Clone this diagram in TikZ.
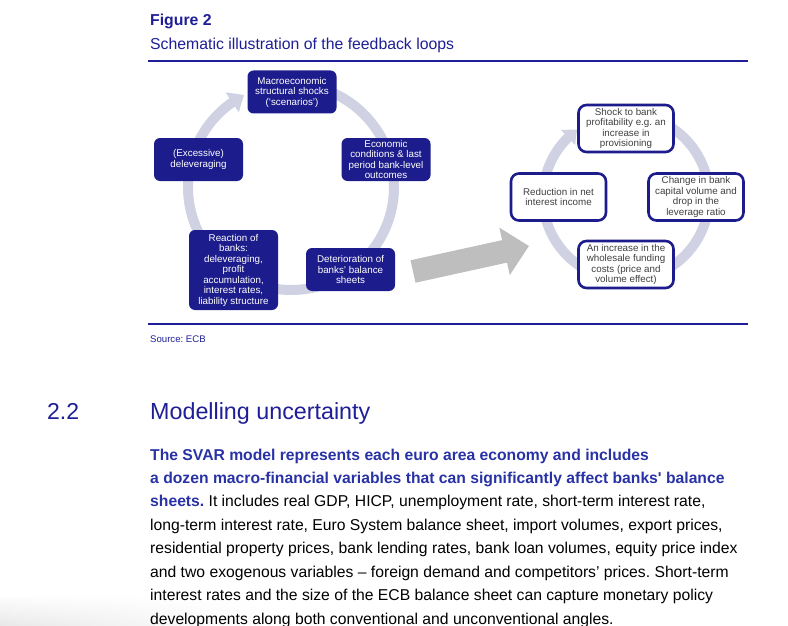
\documentclass[tikz,border=0pt]{standalone}
\usepackage{fontspec}
\setmainfont{Liberation Sans}
\usetikzlibrary{arrows.meta,bending,fadings}
\definecolor{ecbblue}{RGB}{28,28,140}
\definecolor{titleblue}{RGB}{30,30,150}
\definecolor{leadblue}{RGB}{40,50,165}
\definecolor{ringgray}{RGB}{208,210,228}
\definecolor{arrowgray}{RGB}{190,190,190}
\definecolor{boxtext}{RGB}{64,64,64}
\newcommand{\boxfont}{\fontsize{9.8}{10.5}\selectfont}
\newcommand{\bodyfont}{\fontsize{15.7}{18}\selectfont}
\frenchspacing

\begin{document}
\begin{tikzpicture}[x=1pt, y=1pt,
    darkbox/.style={fill=ecbblue, rounded corners=6pt, text=white, align=center,
      font=\boxfont, inner sep=2pt, minimum width=89pt, minimum height=43pt},
    lightbox/.style={draw=ecbblue, line width=2.6pt, fill=white, rounded corners=8pt,
      text=boxtext, align=center, font=\boxfont, inner sep=2pt,
      minimum width=95pt, minimum height=47pt},
    loopring/.style={draw=ringgray, line width=10pt},
    bodyline/.style={anchor=base west, inner sep=0pt, font=\bodyfont}]
      \useasboundingbox (0, 0) rectangle (788, -626);
      % shadow in the corner
      \shade[top color=white, bottom color=black!9, path fading=east] (0, -594) rectangle (270, -626);
      % heading of the figure
      \node[anchor=base west, inner sep=0pt, text=titleblue, font=\fontsize{15.8}{18}\selectfont\bfseries] (T1) at (150, -26) {Figure 2};
      \node[anchor=base west, inner sep=0pt, text=titleblue, font=\fontsize{15.8}{18}\selectfont] (T2) at (150, -50) {Schematic illustration of the feedback loops};
      \draw[titleblue, line width=1.2pt] (148, -61) -- (748, -61);
      \draw[titleblue, line width=1.2pt] (148, -324) -- (748, -324);
      \node[anchor=base west, inner sep=0pt, text=titleblue, font=\fontsize{9.6}{11}\selectfont] (S) at (150, -342) {Source: ECB};
      % left loop
      \coordinate (O1) at (291, -187);
      \draw[loopring, -{Triangle[width=23pt, length=14pt, bend]}] (O1) ++(90:103) arc[start angle=90, end angle=-243, radius=103];
      \node[darkbox] (A) at (292, -92) {Macroeconomic\\structural shocks\\(‘scenarios’)};
      \node[darkbox] (B) at (386, -159.5) {Economic\\conditions \& last\\period bank-level\\outcomes};
      \node[darkbox] (C) at (350.5, -269.5) {Deterioration of\\banks’ balance\\sheets};
      \node[darkbox, minimum height=80pt] (D) at (233.5, -270) {Reaction of\\banks:\\deleveraging,\\profit\\accumulation,\\interest rates,\\liability structure};
      \node[darkbox] (E) at (198.5, -159.5) {(Excessive)\\deleveraging};
      % right loop
      \coordinate (O2) at (626, -197);
      \draw[loopring, -{Triangle[width=20pt, length=12pt, bend]}] (O2) ++(90:83) arc[start angle=90, end angle=-234, radius=83];
      \node[lightbox] (F) at (626, -128.5) {Shock to bank\\profitability e.g. an\\increase in\\provisioning};
      \node[lightbox] (G) at (696, -197) {Change in bank\\capital volume and\\drop in the\\leverage ratio};
      \node[lightbox] (H) at (626, -264.5) {An increase in the\\wholesale funding\\costs (price and\\volume effect)};
      \node[lightbox] (I) at (558.5, -197) {Reduction in net\\interest income};
      % link between the loops
      \coordinate (P) at (413, -271.5);
      \coordinate (Q) at (529, -246);
      \draw[arrowgray, line width=23pt, -{Triangle[width=47pt, length=25pt]}] (P) -- (Q);
      % section text
      \node[anchor=base west, inner sep=0pt, text=titleblue, font=\fontsize{23}{27}\selectfont] (N) at (47, -419) {2.2};
      \node[anchor=base west, inner sep=0pt, text=titleblue, font=\fontsize{23.3}{27}\selectfont] (M) at (150, -419) {Modelling uncertainty};
      \node[bodyline, text=leadblue, font=\bodyfont\bfseries] (L1) at (150, -460) {The SVAR model represents each euro area economy and includes};
      \node[bodyline, text=leadblue, font=\bodyfont\bfseries] (L2) at (150, -483.4) {a dozen macro-financial variables that can significantly affect banks\textquotesingle{} balance};
      \node[bodyline] (L3) at (150, -506.8) {{\bfseries\color{leadblue}sheets.} It includes real GDP, HICP, unemployment rate, short-term interest rate,};
      \node[bodyline] (L4) at (150, -530.3) {long-term interest rate, Euro System balance sheet, import volumes, export prices,};
      \node[bodyline] (L5) at (150, -553.7) {residential property prices, bank lending rates, bank loan volumes, equity price index};
      \node[bodyline] (L6) at (150, -577.1) {and two exogenous variables – foreign demand and competitors’ prices. Short-term};
      \node[bodyline] (L7) at (150, -600.6) {interest rates and the size of the ECB balance sheet can capture monetary policy};
      \node[bodyline] (L8) at (150, -624) {developments along both conventional and unconventional angles.};
    \end{tikzpicture}
\end{document}
